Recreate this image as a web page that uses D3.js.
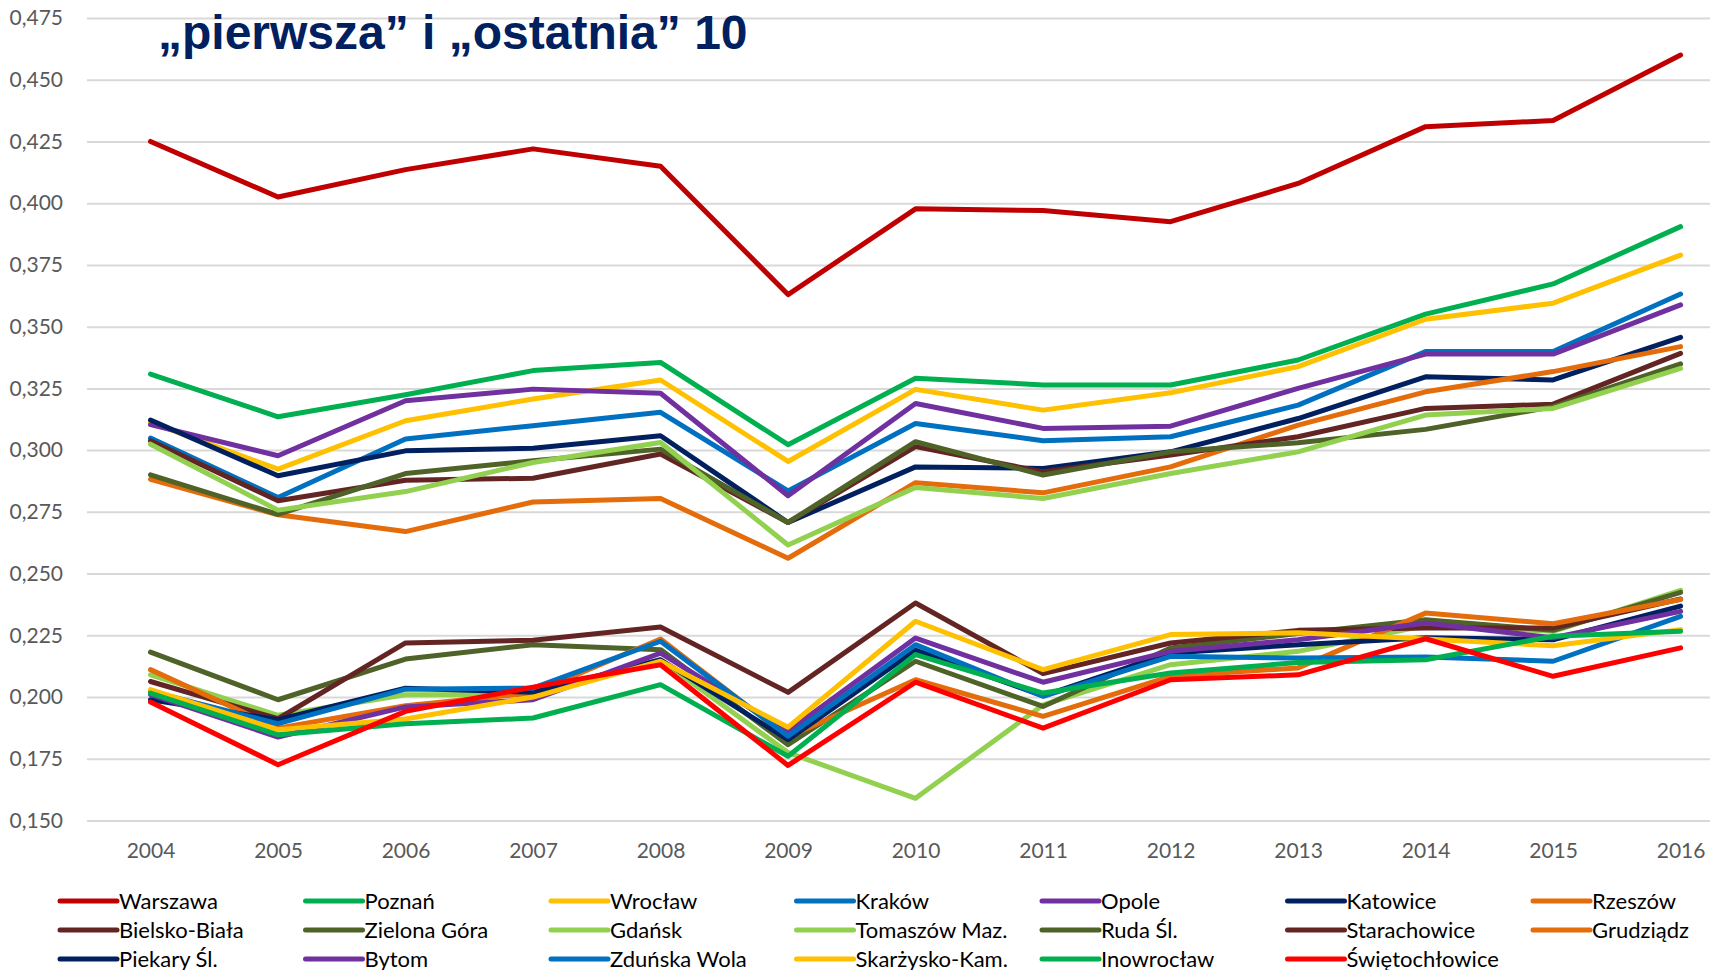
<!DOCTYPE html>
<html>
<head>
<meta charset="utf-8">
<script src="https://cdn.jsdelivr.net/npm/d3@7"></script>
<style>
  body { margin: 0; background: #ffffff; }
  svg { display: block; }
</style>
</head>
<body>
<div id="chart"></div>
<script>
// years along the x-axis
var years = ["2004","2005","2006","2007","2008","2009","2010","2011","2012","2013","2014","2015","2016"];

// y-axis tick values
var yTicks = [0.150, 0.175, 0.200, 0.225, 0.250, 0.275, 0.300, 0.325, 0.350, 0.375, 0.400, 0.425, 0.450, 0.475];

// city names in legend / drawing order
var cities = ["Warszawa","Poznań","Wrocław","Kraków","Opole","Katowice","Rzeszów",
  "Bielsko-Biała","Zielona Góra","Gdańsk","Tomaszów Maz.","Ruda Śl.","Starachowice","Grudziądz",
  "Piekary Śl.","Bytom","Zduńska Wola","Skarżysko-Kam.","Inowrocław","Świętochłowice"];

// values, one list per city
var warszawa      = [0.425, 0.4025, 0.4136, 0.422, 0.415, 0.363, 0.3977, 0.397, 0.3925, 0.408, 0.431, 0.4335, 0.460];
var poznan        = [0.3308, 0.3135, 0.3224, 0.3322, 0.3355, 0.3022, 0.3291, 0.3264, 0.3264, 0.3365, 0.3551, 0.3673, 0.3905];
var wroclaw       = [0.3112, 0.2923, 0.3119, 0.3207, 0.3284, 0.2954, 0.3246, 0.3162, 0.3232, 0.3338, 0.353, 0.3595, 0.379];
var krakow        = [0.3049, 0.2808, 0.3045, 0.3099, 0.3153, 0.2835, 0.3108, 0.3038, 0.3054, 0.3182, 0.3399, 0.3399, 0.3632];
var opole         = [0.3103, 0.2977, 0.32, 0.3247, 0.323, 0.2815, 0.3189, 0.3088, 0.3097, 0.325, 0.3389, 0.3389, 0.3588];
var katowice      = [0.3122, 0.2896, 0.2997, 0.3008, 0.3058, 0.2707, 0.2932, 0.2926, 0.2993, 0.3128, 0.3297, 0.3284, 0.3457];
var rzeszow       = [0.2882, 0.2738, 0.267, 0.279, 0.2804, 0.2562, 0.2868, 0.2827, 0.2932, 0.3101, 0.3236, 0.3318, 0.3419];
var bielsko       = [0.3038, 0.2795, 0.2878, 0.2886, 0.2984, 0.2707, 0.3014, 0.2912, 0.298, 0.3054, 0.3169, 0.3186, 0.3392];
var zielonaGora   = [0.29, 0.274, 0.2905, 0.2957, 0.3004, 0.2707, 0.3034, 0.2899, 0.2993, 0.303, 0.3084, 0.3176, 0.3349];
var gdansk        = [0.3024, 0.2757, 0.2832, 0.295, 0.3031, 0.2616, 0.2849, 0.2804, 0.2905, 0.2993, 0.3142, 0.3169, 0.3331];
var tomaszow      = [0.209, 0.1926, 0.2009, 0.201, 0.215, 0.1775, 0.159, 0.1968, 0.2131, 0.2185, 0.229, 0.2266, 0.2432];
var rudaSl        = [0.2182, 0.1989, 0.2154, 0.2212, 0.2192, 0.1807, 0.2145, 0.1962, 0.2199, 0.2257, 0.2313, 0.227, 0.2424];
var starachowice  = [0.2063, 0.1912, 0.2219, 0.223, 0.2284, 0.2019, 0.2381, 0.2095, 0.2219, 0.227, 0.228, 0.228, 0.2397];
var grudziadz     = [0.2111, 0.1874, 0.1965, 0.2016, 0.2235, 0.1838, 0.207, 0.1922, 0.2084, 0.2118, 0.234, 0.2297, 0.2395];
var piekary       = [0.1989, 0.1908, 0.2036, 0.2019, 0.2151, 0.1827, 0.219, 0.2005, 0.2178, 0.2212, 0.224, 0.2232, 0.2368];
var bytom         = [0.201, 0.1838, 0.196, 0.1989, 0.2178, 0.1861, 0.2239, 0.206, 0.2185, 0.2232, 0.23, 0.224, 0.2347];
var zdunskaWola   = [0.2023, 0.1892, 0.2032, 0.2036, 0.2226, 0.1841, 0.2212, 0.2003, 0.2165, 0.2158, 0.2162, 0.2145, 0.2327];
var skarzysko     = [0.203, 0.1868, 0.1911, 0.2, 0.2145, 0.1878, 0.2307, 0.2111, 0.2253, 0.226, 0.2235, 0.2208, 0.2273];
var inowroclaw    = [0.2016, 0.1847, 0.1892, 0.1915, 0.205, 0.176, 0.2172, 0.2016, 0.2097, 0.214, 0.2151, 0.2246, 0.2266];
var swietochlowice = [0.198, 0.1726, 0.1942, 0.204, 0.2131, 0.1723, 0.206, 0.1874, 0.207, 0.209, 0.2236, 0.2084, 0.2199];

var seriesValues = [warszawa, poznan, wroclaw, krakow, opole, katowice, rzeszow,
  bielsko, zielonaGora, gdansk, tomaszow, rudaSl, starachowice, grudziadz,
  piekary, bytom, zdunskaWola, skarzysko, inowroclaw, swietochlowice];

var colours = ["#c00000","#00b050","#ffc000","#0070c0","#7030a0","#002060","#e46c0a",
  "#632523","#4f6228","#92d050","#92d050","#4f6228","#632523","#e46c0a",
  "#002060","#7030a0","#0070c0","#ffc000","#00b050","#ff0000"];

var width = 1710, height = 970;
var labelFont = "Lato, 'Open Sans', sans-serif";

var svg = d3.select("#chart")
  .append("svg")
  .attr("width", width)
  .attr("height", height);

var xPositionScale = d3.scalePoint().domain(years).range([150.5, 1680.6]);
var yPositionScale = d3.scaleLinear().domain([0.150, 0.475]).range([820.5, 18]);

var commaFormat = function(d) { return d3.format(".3f")(d).replace(".", ","); };

// y-axis with gridlines
var plotLeft = 87;
var yAxis = d3.axisLeft(yPositionScale)
  .tickValues(yTicks)
  .tickSize(-(width - plotLeft))
  .tickPadding(24)
  .tickFormat(commaFormat);

svg.append("g")
  .attr("class", "axis y-axis")
  .attr("transform", "translate(" + plotLeft + ",0)")
  .call(yAxis)
  .call(function(g) { g.select(".domain").remove(); })
  .call(function(g) {
    g.selectAll(".tick line").attr("stroke", "#d9d9d9").attr("stroke-width", 2);
    g.selectAll(".tick text")
      .style("font-family", labelFont)
      .style("font-size", "21px")
      .attr("fill", "#595959");
  });

// x-axis labels
var xAxis = d3.axisBottom(xPositionScale).tickSize(0).tickPadding(0);
svg.append("g")
  .attr("class", "axis x-axis")
  .attr("transform", "translate(0,843)")
  .call(xAxis)
  .call(function(g) { g.select(".domain").remove(); })
  .selectAll("text")
  .style("font-family", labelFont)
  .style("font-size", "21px")
  .attr("fill", "#595959");

// lines
var datapoints = cities.map(function(name, i) {
  return { name: name, colour: colours[i], values: seriesValues[i] };
});

var line = d3.line()
  .x(function(d, i) { return xPositionScale(years[i]); })
  .y(function(d) { return yPositionScale(d); });

svg.append("g")
  .attr("class", "lines")
  .selectAll("path")
  .data(datapoints)
  .enter().append("path")
  .attr("d", function(d) { return line(d.values); })
  .attr("fill", "none")
  .attr("stroke", function(d) { return d.colour; })
  .attr("stroke-width", 5)
  .attr("stroke-linejoin", "round")
  .attr("stroke-linecap", "round");

// title
svg.append("text")
  .attr("x", 158)
  .attr("y", 49)
  .text("„pierwsza” i „ostatnia” 10")
  .style("font-family", "'Liberation Sans', Arial, sans-serif")
  .style("font-weight", "bold")
  .style("font-size", "48px")
  .attr("fill", "#002060");

// legend
var legend = svg.append("g").attr("class", "legend");
var legendItems = legend.selectAll("g")
  .data(datapoints)
  .enter().append("g")
  .attr("transform", function(d, i) {
    return "translate(" + (60 + (i % 7) * 245.5) + "," + (901 + Math.floor(i / 7) * 29) + ")";
  });

legendItems.append("line")
  .attr("x1", 0)
  .attr("x2", 57)
  .attr("stroke", function(d) { return d.colour; })
  .attr("stroke-width", 5)
  .attr("stroke-linecap", "round");

legendItems.append("text")
  .attr("x", 59)
  .attr("dy", ".35em")
  .text(function(d) { return d.name; })
  .style("font-family", labelFont)
  .style("font-size", "22px")
  .attr("fill", "#000000");
</script>
</body>
</html>
